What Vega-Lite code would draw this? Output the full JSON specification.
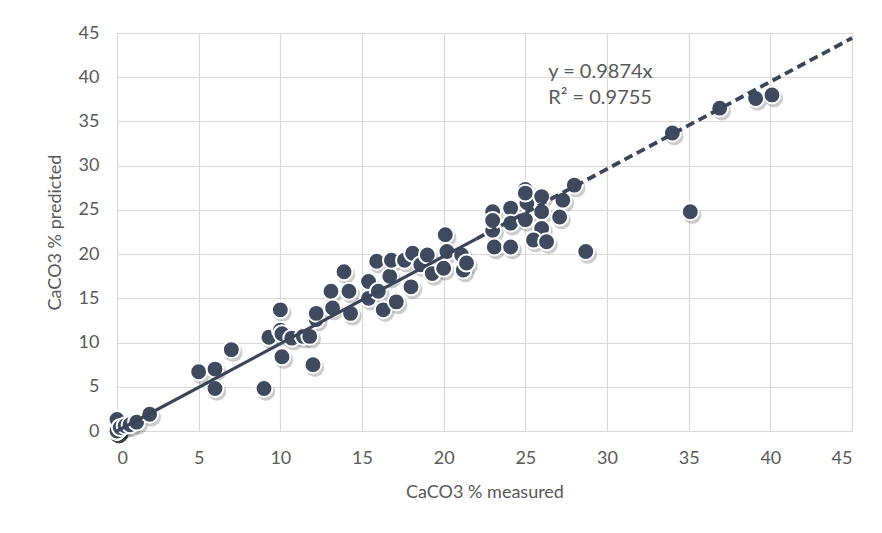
{
  "$schema": "https://vega.github.io/schema/vega-lite/v6.json",
  "width": 735,
  "height": 398,
  "autosize": {"type": "none"},
  "padding": {"left": 117, "top": 33, "right": 30, "bottom": 102},
  "background": "white",
  "config": {
    "view": {"stroke": null},
    "font": "Lato",
    "axis": {
      "grid": true, "gridColor": "#d9d9d9", "gridWidth": 1.2,
      "domain": false, "ticks": false,
      "labelFont": "Lato", "labelFontSize": 18, "labelColor": "#595959",
      "titleFont": "Lato", "titleFontSize": 18, "titleColor": "#595959", "titleFontWeight": "normal",
      "labelPadding": 18
    }
  },
  "datasets": {
    "pts": [
      {"m": 0, "p": 0}, {"m": 0, "p": 0}, {"m": 0, "p": 0}, {"m": 0, "p": 0}, {"m": 0, "p": 0}, {"m": 0, "p": 0},
      {"m": 0, "p": 1.3}, {"m": 0.2, "p": 0.4}, {"m": 0.5, "p": 0.6}, {"m": 0.8, "p": 0.7}, {"m": 1.2, "p": 1.0}, {"m": 2.0, "p": 1.9},
      {"m": 5.0, "p": 6.7}, {"m": 6.0, "p": 7.0}, {"m": 6.0, "p": 4.8}, {"m": 7.0, "p": 9.2}, {"m": 9.0, "p": 4.8},
      {"m": 9.3, "p": 10.6}, {"m": 10.0, "p": 13.7}, {"m": 10.0, "p": 11.4}, {"m": 10.1, "p": 11.0}, {"m": 10.1, "p": 8.4},
      {"m": 10.7, "p": 10.5}, {"m": 11.4, "p": 10.7}, {"m": 11.8, "p": 10.7}, {"m": 12.0, "p": 7.5}, {"m": 12.2, "p": 12.6},
      {"m": 12.2, "p": 13.3}, {"m": 13.1, "p": 15.8}, {"m": 13.2, "p": 13.9}, {"m": 13.9, "p": 18.0}, {"m": 14.2, "p": 15.8},
      {"m": 14.3, "p": 13.3}, {"m": 15.4, "p": 16.9}, {"m": 15.4, "p": 15.0}, {"m": 15.9, "p": 19.2}, {"m": 16.0, "p": 15.8},
      {"m": 16.3, "p": 13.7}, {"m": 16.7, "p": 17.5}, {"m": 16.8, "p": 19.3}, {"m": 17.1, "p": 14.6}, {"m": 17.6, "p": 19.3},
      {"m": 18.0, "p": 16.3}, {"m": 18.1, "p": 20.1}, {"m": 18.6, "p": 18.8}, {"m": 19.0, "p": 19.9}, {"m": 19.3, "p": 17.8},
      {"m": 20.0, "p": 18.4}, {"m": 20.1, "p": 22.2}, {"m": 20.2, "p": 20.3}, {"m": 21.1, "p": 19.9}, {"m": 21.2, "p": 18.2},
      {"m": 21.4, "p": 19.0}, {"m": 23.0, "p": 22.7}, {"m": 23.0, "p": 24.8}, {"m": 23.0, "p": 23.8}, {"m": 23.1, "p": 20.8},
      {"m": 24.1, "p": 25.2}, {"m": 24.1, "p": 23.5}, {"m": 24.1, "p": 20.8}, {"m": 25.0, "p": 27.3}, {"m": 25.1, "p": 25.8},
      {"m": 25.0, "p": 23.9}, {"m": 25.0, "p": 26.9}, {"m": 26.0, "p": 26.5}, {"m": 26.0, "p": 24.8}, {"m": 26.0, "p": 22.9},
      {"m": 25.5, "p": 21.6}, {"m": 26.3, "p": 21.4}, {"m": 27.1, "p": 24.2}, {"m": 27.3, "p": 26.1}, {"m": 28.0, "p": 27.8},
      {"m": 28.7, "p": 20.3}, {"m": 34.0, "p": 33.7}, {"m": 35.1, "p": 24.8}, {"m": 36.9, "p": 36.5}, {"m": 39.1, "p": 37.6},
      {"m": 40.1, "p": 38.0}
    ],
    "trendSolid": [{"m": 0, "p": 0}, {"m": 22, "p": 21.72}],
    "trendDash": [{"m": 22, "p": 21.72}, {"m": 45, "p": 44.43}],
    "labels": [
      {"m": 26.4, "p": 40.6, "t": "y = 0.9874x"},
      {"m": 26.4, "p": 37.7, "t": "R² = 0.9755"}
    ]
  },
  "encoding": {
    "x": {"field": "m", "type": "quantitative", "scale": {"domain": [0, 45], "nice": false, "zero": false},
          "axis": {"values": [0, 5, 10, 15, 20, 25, 30, 35, 40, 45], "title": "CaCO3 % measured", "titlePadding": 16}},
    "y": {"field": "p", "type": "quantitative", "scale": {"domain": [0, 45], "nice": false, "zero": false},
          "axis": {"values": [0, 5, 10, 15, 20, 25, 30, 35, 40, 45], "title": "CaCO3 % predicted", "titlePadding": 14}}
  },
  "layer": [
    {
      "data": {"name": "pts"},
      "mark": {"type": "circle", "size": 340, "color": "#000000", "opacity": 0.2, "xOffset": 2, "yOffset": 3, "clip": false}
    },
    {
      "data": {"name": "pts"},
      "mark": {"type": "circle", "size": 285, "fill": "#3f4a5f", "fillOpacity": 1, "stroke": "#ffffff", "strokeWidth": 2, "opacity": 1, "clip": false}
    },
    {
      "data": {"name": "trendSolid"},
      "mark": {"type": "line", "color": "#3b455a", "strokeWidth": 3.2},
      "encoding": {}
    },
    {
      "data": {"name": "trendDash"},
      "mark": {"type": "line", "color": "#3b455a", "strokeWidth": 3.8, "strokeDash": [9, 5]},
      "encoding": {}
    },
    {
      "data": {"name": "labels"},
      "mark": {"type": "text", "align": "left", "baseline": "middle", "fontSize": 20, "color": "#595959", "font": "Lato"},
      "encoding": {"text": {"field": "t"}}
    }
  ]
}
